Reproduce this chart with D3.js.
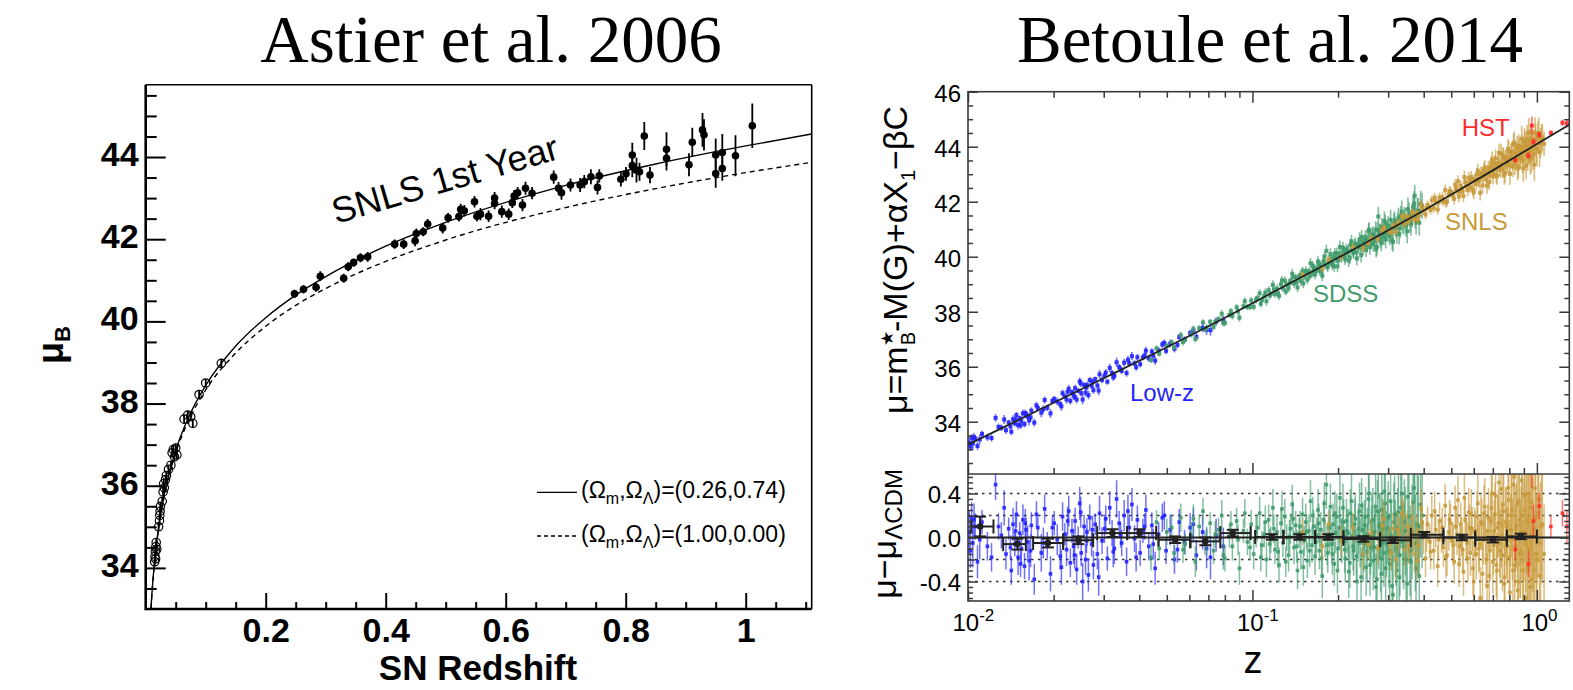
<!DOCTYPE html>
<html>
<head>
<meta charset="utf-8">
<script src="https://cdn.jsdelivr.net/npm/d3@7"></script>
<style>
  body { margin: 0; background: #fff; }
  svg { display: block; }
</style>
</head>
<body>
<svg id="fig" width="1573" height="690"></svg>
<script>
// ===================== Astier et al. 2006 : SNLS first-year Hubble diagram =====================
// nearby supernovae (open circles)
const nearbyZ   = [0.0150,0.0155,0.0160,0.0165,0.0170,0.0175,0.0185,0.0215,0.0230,0.0235,
                   0.0240,0.0245,0.0275,0.0290,0.0300,0.0310,0.0330,0.0345,0.0380,0.0420,
                   0.0440,0.0460,0.0480,0.0500,0.0520,0.0640,0.0700,0.0750,0.0785,0.0890,
                   0.1000,0.1260];
const nearbyMu  = [34.15,34.28,34.40,34.22,34.52,34.62,34.45,35.00,35.15,35.28,
                   35.38,35.50,35.62,35.85,36.05,35.95,36.15,36.25,36.40,36.50,
                   36.80,36.88,36.70,36.92,36.75,37.62,37.72,37.68,37.52,38.22,
                   38.50,38.98];
const nearbyErr = [0.10,0.10,0.10,0.10,0.10,0.10,0.10,0.10,0.10,0.10,
                   0.10,0.10,0.10,0.10,0.10,0.10,0.10,0.10,0.10,0.10,
                   0.10,0.10,0.10,0.10,0.10,0.10,0.10,0.10,0.10,0.10,
                   0.10,0.10];
// SNLS first-year supernovae (filled circles)
const snls1Z   = [0.248,0.263,0.284,0.291,0.330,0.3375,0.3465,0.358,0.370,0.415,
                  0.430,0.449,0.451,0.4625,0.470,0.495,0.504,0.522,0.525,0.531,
                  0.548,0.552,0.558,0.5715,0.5815,0.5815,0.5935,0.605,0.611,0.614,
                  0.620,0.628,0.633,0.644,0.680,0.688,0.693,0.708,0.724,0.731,
                  0.742,0.753,0.756,0.792,0.8005,0.811,0.811,0.818,0.823,0.831,
                  0.8405,0.868,0.868,0.9055,0.911,0.928,0.9305,0.950,0.950,0.961,
                  0.961,0.983,1.011];
const snls1Mu  = [40.67,40.78,40.83,41.10,41.05,41.33,41.43,41.55,41.57,41.88,
                  41.88,41.96,42.14,42.18,42.37,42.27,42.52,42.55,42.73,42.69,
                  42.91,42.56,42.61,42.56,43.00,42.87,42.67,42.61,42.89,43.05,
                  43.13,42.83,43.24,43.12,43.51,43.24,43.13,43.32,43.32,43.40,
                  43.52,43.26,43.54,43.46,43.59,44.05,43.79,43.68,43.64,44.51,
                  43.56,44.19,43.97,43.81,44.36,44.66,44.54,44.05,43.60,44.11,
                  43.72,44.03,44.76];
const snls1Err = [0.10,0.10,0.11,0.12,0.11,0.11,0.10,0.11,0.12,0.11,
                  0.12,0.13,0.12,0.11,0.12,0.13,0.12,0.12,0.13,0.14,
                  0.14,0.13,0.15,0.14,0.15,0.14,0.15,0.14,0.13,0.15,
                  0.14,0.15,0.16,0.15,0.16,0.15,0.17,0.16,0.17,0.16,
                  0.18,0.17,0.16,0.18,0.17,0.30,0.28,0.30,0.22,0.34,
                  0.20,0.41,0.30,0.28,0.35,0.41,0.38,0.40,0.35,0.45,
                  0.30,0.50,0.54];
// model Hubble curves: (0.26,0.74) and (1.00,0.00)
const modelZ = [0.008,0.01,0.015,0.02,0.03,0.04,0.05,0.07,0.1,0.15,0.2,0.25,0.3,0.4,0.5,0.7,0.85,1.0,1.11];
const lcdmMu = [32.82,33.30,34.20,34.82,35.72,36.35,36.86,37.62,38.44,39.40,40.09,40.64,41.09,41.83,42.41,43.31,43.83,44.27,44.56];
const edsMu  = [32.80,33.28,34.17,34.79,35.68,36.31,36.80,37.54,38.33,39.23,39.88,40.39,40.80,41.46,41.98,42.77,43.23,43.62,43.87];
const leftXTicks = [0.2, 0.4, 0.6, 0.8, 1];
const leftYTicks = [34, 36, 38, 40, 42, 44];
const legendA = "(0.26,0.74)";
const legendB = "(1.00,0.00)";

// ===================== Betoule et al. 2014 : JLA Hubble diagram =====================
const jlaCurveZ  = [0.01,0.02,0.03,0.05,0.07,0.1,0.15,0.2,0.3,0.4,0.5,0.7,1.0,1.3];
const jlaCurveMu = [33.17,34.69,35.58,36.71,37.47,38.31,39.28,39.96,40.96,41.68,42.26,43.14,44.10,44.80];

// Low-z sample: redshift, Hubble residual, uncertainty
const lowzZ = [0.0101,0.0102,0.0103,0.0104,0.0106,0.0108,0.0112,0.0117,0.0125,0.0131,
               0.0136,0.0139,0.0142,0.0144,0.0146,0.0148,0.0150,0.0152,0.0154,0.0156,
               0.0158,0.0160,0.0162,0.0164,0.0167,0.0171,0.0176,0.0181,0.0186,0.0190,
               0.0195,0.0201,0.0206,0.0211,0.0215,0.0219,0.0222,0.0226,0.0229,0.0232,
               0.0235,0.0238,0.0241,0.0244,0.0247,0.0250,0.0253,0.0256,0.0259,0.0262,
               0.0265,0.0268,0.0272,0.0276,0.0280,0.0285,0.0290,0.0296,0.0302,0.0309,
               0.0315,0.0321,0.0327,0.0333,0.0340,0.0347,0.0354,0.0361,0.0369,0.0377,
               0.0385,0.0394,0.0403,0.0412,0.0422,0.0432,0.0443,0.0455,0.0468,0.0482,
               0.0497,0.0514,0.0532,0.0553,0.0577,0.0604,0.0635,0.0668,0.0690,0.0712,
               0.0745,0.0790,
               0.0105,0.0110,0.0121,0.0128,0.0134,0.0141,0.0147,0.0153,0.0159,0.0166,
               0.0174,0.0184,0.0198,0.0213,0.0224,0.0237,0.0249,0.0261,0.0274,0.0288,
               0.0305,0.0324,0.0344,0.0365,0.0390,0.0418,0.0448,0.0490,0.0545,0.0620];
const lowzRes = [0.05,-0.12,0.18,-0.05,0.10,-0.22,0.14,-0.08,0.48,0.02,
                 -0.15,0.08,-0.30,0.12,-0.06,0.21,-0.18,0.04,-0.10,0.16,
                 -0.26,0.07,-0.04,-0.21,0.11,-0.38,0.09,-0.14,0.26,-0.07,
                 -0.33,0.13,-0.02,-0.17,0.19,0.03,-0.11,0.24,-0.23,0.06,
                 -0.08,0.15,-0.29,0.00,0.31,-0.14,-0.40,0.10,-0.20,0.05,
                 -0.34,0.18,-0.06,-0.25,0.12,-0.15,0.22,-0.03,0.08,-0.19,
                 0.27,0.04,-0.10,0.35,0.13,-0.05,0.20,-0.22,0.09,0.30,
                 -0.01,0.16,-0.14,0.06,0.25,-0.08,0.11,-0.28,0.03,0.18,
                 -0.12,0.07,-0.20,0.14,-0.04,0.09,-0.16,0.05,-0.10,-0.18,
                 0.02,-0.08,
                 0.16,-0.02,-0.18,0.10,0.27,-0.09,0.06,-0.24,0.13,-0.12,
                 0.21,-0.05,0.09,-0.27,0.15,-0.16,0.23,-0.03,0.07,-0.36,
                 0.17,-0.13,0.02,0.24,-0.18,0.10,-0.06,0.20,-0.11,0.12];
const lowzErr = [0.20,0.16,0.14,0.22,0.12,0.15,0.11,0.13,0.14,0.12,
                 0.14,0.10,0.13,0.15,0.11,0.12,0.16,0.10,0.13,0.14,
                 0.12,0.11,0.15,0.18,0.12,0.14,0.10,0.17,0.13,0.12,
                 0.16,0.11,0.14,0.12,0.13,0.10,0.15,0.14,0.13,0.11,
                 0.16,0.12,0.14,0.10,0.15,0.12,0.17,0.11,0.14,0.13,
                 0.15,0.12,0.11,0.13,0.10,0.14,0.16,0.12,0.13,0.11,
                 0.15,0.12,0.14,0.17,0.11,0.12,0.14,0.13,0.10,0.15,
                 0.12,0.13,0.12,0.11,0.14,0.13,0.12,0.15,0.11,0.13,
                 0.12,0.14,0.13,0.12,0.11,0.13,0.14,0.16,0.18,0.20,
                 0.15,0.17,
                 0.15,0.18,0.13,0.12,0.16,0.11,0.14,0.12,0.13,0.15,
                 0.12,0.14,0.11,0.16,0.13,0.12,0.14,0.11,0.13,0.17,
                 0.12,0.14,0.11,0.15,0.13,0.12,0.14,0.13,0.12,0.15];

// SDSS sample
const sdssZ = [0.044,0.046,0.047,0.050,0.053,0.056,0.058,0.061,0.063,0.065,
               0.067,0.069,0.071,0.073,0.076,0.078,0.080,0.083,0.085,0.088,
               0.090,0.093,0.096,0.099,0.101,0.104,0.106,0.108,0.110,0.112,
               0.114,0.116,0.118,0.120,0.122,0.124,0.126,0.128,0.130,0.132,
               0.134,0.136,0.138,0.140,0.142,0.144,0.146,0.148,0.150,0.152,
               0.154,0.156,0.158,0.160,0.162,0.164,0.166,0.168,0.170,0.172,
               0.174,0.176,0.178,0.180,0.182,0.184,0.186,0.188,0.190,0.192,
               0.194,0.196,0.198,0.200,0.203,0.206,0.209,0.212,0.215,0.218,
               0.221,0.224,0.227,0.230,0.233,0.236,0.239,0.242,0.245,0.248,
               0.251,0.254,0.257,0.260,0.263,0.266,0.269,0.272,0.275,0.277,
               0.278,0.281,0.284,0.287,0.290,0.293,0.296,0.300,0.304,0.308,
               0.312,0.316,0.320,0.324,0.328,0.332,0.337,0.342,0.347,0.352,
               0.358,0.364,0.370,0.372,0.376,0.383,0.390,
               0.052,0.057,0.062,0.068,0.074,0.079,0.084,0.089,0.094,0.098,
               0.103,0.107,0.111,0.115,0.119,0.123,0.127,0.131,0.135,0.139,
               0.143,0.147,0.151,0.155,0.159,0.163,0.167,0.171,0.175,0.179,
               0.183,0.187,0.191,0.195,0.199,0.202,0.205,0.208,0.211,0.214,
               0.217,0.220,0.223,0.226,0.229,0.232,0.235,0.238,0.241,0.244,
               0.247,0.250,0.253,0.256,0.259,0.262,0.265,0.268,0.271,0.274,
               0.279,0.282,0.285,0.288,0.291,0.294,0.298,0.302,0.306,0.310,
               0.314,0.318,0.322,0.326,0.330,0.335,0.340,0.345,0.350,0.355,
               0.361,0.367,0.374,0.380,0.386,0.395];
const sdssRes = [-0.18,0.14,-0.10,0.05,-0.14,0.18,-0.06,0.02,-0.22,0.10,
                 0.24,-0.03,0.13,-0.12,0.07,0.20,-0.19,0.01,-0.08,0.15,
                 -0.28,0.06,-0.04,0.12,-0.15,0.09,0.22,-0.07,0.03,-0.20,
                 0.16,-0.02,0.27,-0.11,0.05,-0.25,0.13,-0.05,0.19,0.00,
                 -0.16,0.08,0.30,-0.09,0.11,-0.30,0.04,-0.13,0.21,-0.03,
                 0.14,-0.21,0.06,0.33,-0.07,0.10,-0.17,0.02,0.25,-0.12,
                 0.07,-0.35,0.16,-0.01,0.48,-0.14,0.09,0.28,-0.06,0.12,
                 -0.24,0.04,0.19,-0.10,0.36,-0.03,0.14,-0.19,0.06,-0.31,
                 0.22,0.01,-0.12,0.17,-0.40,0.08,-0.05,0.29,-0.16,0.11,
                 -0.27,0.03,0.40,-0.09,0.15,-0.21,0.05,-0.45,0.24,0.70,
                 -0.02,0.12,-0.33,0.07,-0.14,0.31,-0.06,0.18,-0.24,0.02,
                 -0.52,0.21,-0.10,0.09,-0.36,0.27,-0.04,0.14,-0.20,0.37,
                 -0.12,0.05,0.45,0.72,-0.28,0.10,0.30,
                 0.09,-0.11,0.17,-0.05,0.03,-0.16,0.12,-0.02,0.22,-0.09,
                 0.05,-0.18,0.14,-0.06,0.08,-0.13,0.26,-0.22,0.01,0.17,
                 -0.08,0.10,-0.27,0.05,-0.12,0.20,-0.04,0.13,-0.19,0.31,
                 -0.07,0.03,-0.15,0.22,-0.30,0.09,-0.02,0.27,-0.11,0.15,
                 0.04,-0.23,0.33,-0.08,0.12,-0.17,0.01,0.24,-0.36,0.07,
                 -0.05,0.19,-0.13,0.35,-0.25,0.02,0.16,-0.09,0.28,-0.38,
                 0.10,-0.19,0.25,-0.04,0.42,-0.28,0.08,-0.12,0.33,-0.44,
                 0.14,-0.01,-0.30,0.23,-0.16,0.40,-0.08,0.06,-0.42,0.19,
                 -0.22,0.32,-0.05,0.12,-0.35,0.20];
const sdssErr = [0.12,0.11,0.10,0.12,0.11,0.13,0.10,0.12,0.14,0.11,
                 0.12,0.13,0.10,0.12,0.11,0.14,0.12,0.10,0.13,0.12,
                 0.15,0.11,0.12,0.13,0.14,0.12,0.15,0.13,0.12,0.16,
                 0.14,0.12,0.17,0.13,0.15,0.16,0.14,0.13,0.16,0.12,
                 0.15,0.14,0.18,0.15,0.13,0.17,0.14,0.16,0.15,0.14,
                 0.17,0.16,0.15,0.19,0.16,0.15,0.17,0.16,0.19,0.17,
                 0.16,0.20,0.18,0.17,0.22,0.18,0.17,0.21,0.18,0.19,
                 0.20,0.18,0.21,0.19,0.23,0.20,0.21,0.22,0.20,0.24,
                 0.22,0.21,0.23,0.22,0.26,0.23,0.22,0.25,0.24,0.23,
                 0.26,0.24,0.28,0.25,0.26,0.27,0.25,0.30,0.28,0.35,
                 0.27,0.29,0.30,0.28,0.31,0.32,0.30,0.33,0.34,0.32,
                 0.36,0.35,0.34,0.36,0.38,0.37,0.36,0.39,0.40,0.42,
                 0.41,0.43,0.45,0.40,0.44,0.46,0.48,
                 0.11,0.12,0.13,0.11,0.12,0.13,0.12,0.14,0.13,0.12,
                 0.14,0.13,0.15,0.14,0.13,0.15,0.16,0.14,0.15,0.16,
                 0.15,0.14,0.17,0.16,0.15,0.17,0.16,0.18,0.17,0.19,
                 0.18,0.17,0.19,0.20,0.21,0.19,0.20,0.22,0.21,0.20,
                 0.22,0.23,0.24,0.22,0.23,0.24,0.23,0.26,0.27,0.25,
                 0.26,0.27,0.26,0.29,0.28,0.27,0.29,0.28,0.30,0.32,
                 0.30,0.31,0.32,0.31,0.35,0.33,0.32,0.34,0.36,0.38,
                 0.36,0.35,0.37,0.38,0.37,0.41,0.39,0.40,0.44,0.42,
                 0.43,0.45,0.44,0.46,0.47,0.48];

// SNLS sample
const snlsZ = [0.150,0.176,0.185,0.205,0.226,0.245,0.262,0.276,0.290,0.302,
               0.312,0.320,0.328,0.336,0.343,0.350,0.357,0.364,0.371,0.378,
               0.385,0.392,0.399,0.406,0.413,0.420,0.427,0.434,0.441,0.448,
               0.455,0.462,0.469,0.476,0.483,0.490,0.497,0.504,0.512,0.520,
               0.528,0.536,0.544,0.552,0.560,0.568,0.576,0.584,0.592,0.600,
               0.608,0.616,0.624,0.632,0.640,0.648,0.656,0.664,0.672,0.680,
               0.688,0.696,0.704,0.712,0.720,0.728,0.736,0.744,0.752,0.760,
               0.768,0.776,0.784,0.792,0.800,0.808,0.816,0.824,0.832,0.840,
               0.848,0.856,0.864,0.872,0.880,0.888,0.896,0.904,0.912,0.920,
               0.928,0.936,0.944,0.952,0.960,0.970,0.980,0.990,1.000,1.015,
               1.030,1.045,1.060,
               0.255,0.285,0.308,0.324,0.339,0.353,0.367,0.381,0.395,0.409,
               0.423,0.437,0.451,0.465,0.479,0.493,0.508,0.516,0.524,0.532,
               0.540,0.548,0.556,0.564,0.572,0.580,0.588,0.596,0.604,0.612,
               0.620,0.628,0.636,0.644,0.652,0.660,0.668,0.676,0.684,0.692,
               0.700,0.708,0.716,0.724,0.732,0.740,0.748,0.756,0.764,0.772,
               0.780,0.788,0.796,0.804,0.812,0.820,0.828,0.836,0.844,0.852,
               0.860,0.868,0.876,0.884,0.892,0.900,0.908,0.916,0.924,0.932,
               0.940,0.948,0.956,0.965,0.975,0.985,0.995,1.008,1.022,1.038];
const snlsRes = [0.05,-0.08,0.12,-0.03,0.09,-0.15,0.04,-0.10,0.17,-0.05,
                 0.08,-0.20,0.03,0.22,-0.11,0.10,-0.02,0.18,-0.15,0.06,
                 -0.07,0.26,0.00,-0.19,0.12,-0.04,0.20,-0.12,0.07,-0.26,
                 0.15,0.02,-0.09,0.29,-0.16,0.05,0.13,-0.03,-0.22,0.10,
                 0.34,-0.08,0.01,-0.31,0.16,-0.05,0.23,-0.14,0.08,-0.40,
                 0.03,0.19,-0.10,-0.55,0.12,-0.02,0.28,-0.20,0.06,-0.35,
                 0.15,0.40,-0.07,0.21,-0.25,0.09,0.50,-0.12,0.02,0.30,
                 -0.42,0.14,-0.03,0.45,-0.18,0.07,0.25,-0.30,0.55,-0.08,
                 0.11,-0.48,0.33,-0.15,0.04,0.20,-0.60,0.38,-0.05,0.15,
                 -0.28,0.60,-0.10,0.27,-0.38,0.08,-0.70,0.18,-0.20,0.35,
                 -0.05,0.12,-0.15,
                 -0.06,0.11,-0.14,0.07,0.19,-0.08,0.02,-0.21,0.14,0.04,
                 -0.13,0.24,-0.02,0.09,-0.18,0.16,-0.07,0.27,0.03,-0.24,
                 0.12,-0.11,0.36,-0.01,-0.19,0.09,0.21,-0.28,0.05,-0.15,
                 0.31,-0.06,0.14,-0.33,0.22,0.00,-0.44,0.18,-0.12,0.27,
                 -0.22,0.06,0.38,-0.30,0.13,-0.05,0.44,-0.16,0.24,-0.36,
                 0.10,-0.08,0.34,-0.50,0.20,-0.02,0.48,-0.25,0.08,0.30,
                 -0.40,0.16,-0.12,0.52,-0.30,0.05,0.25,-0.55,0.40,-0.10,
                 0.18,-0.45,0.32,0.02,-0.30,0.45,-0.15,0.22,-0.35,0.10];
const snlsErr = [0.12,0.13,0.12,0.14,0.13,0.15,0.14,0.15,0.16,0.15,
                 0.14,0.17,0.15,0.16,0.15,0.14,0.16,0.15,0.17,0.15,
                 0.16,0.18,0.15,0.17,0.16,0.15,0.18,0.17,0.16,0.19,
                 0.17,0.16,0.18,0.20,0.19,0.17,0.18,0.17,0.20,0.18,
                 0.22,0.19,0.18,0.22,0.20,0.19,0.22,0.21,0.20,0.25,
                 0.21,0.23,0.22,0.28,0.23,0.22,0.26,0.25,0.24,0.28,
                 0.26,0.30,0.27,0.29,0.30,0.28,0.33,0.30,0.29,0.33,
                 0.35,0.32,0.31,0.36,0.34,0.33,0.37,0.38,0.40,0.37,
                 0.39,0.42,0.41,0.40,0.42,0.45,0.48,0.46,0.45,0.48,
                 0.50,0.52,0.50,0.53,0.55,0.54,0.58,0.56,0.60,0.58,
                 0.55,0.50,0.45,
                 0.14,0.15,0.15,0.16,0.15,0.16,0.15,0.17,0.16,0.17,
                 0.16,0.18,0.17,0.18,0.19,0.18,0.19,0.20,0.19,0.21,
                 0.20,0.21,0.23,0.20,0.22,0.21,0.23,0.25,0.22,0.23,
                 0.26,0.24,0.25,0.28,0.26,0.25,0.30,0.27,0.28,0.30,
                 0.29,0.28,0.32,0.31,0.30,0.31,0.35,0.33,0.34,0.37,
                 0.35,0.34,0.38,0.40,0.38,0.37,0.42,0.40,0.39,0.42,
                 0.44,0.42,0.43,0.47,0.46,0.45,0.48,0.50,0.50,0.48,
                 0.50,0.52,0.53,0.52,0.55,0.56,0.55,0.58,0.55,0.52];

// HST sample
const hstZ   = [0.839,0.934,0.960,0.973,1.019,1.120,1.230,1.275];
const hstRes = [-0.11,-0.24,0.78,0.15,0.285,0.10,0.22,0.10];
const hstErr = [0.10,0.12,0.33,0.15,0.12,0.10,0.12,0.15];

// binned residuals (black)
const binZ   = [0.01103,0.01492,0.0191,0.02444,0.0322,0.0401,0.0535,0.0683,0.0853,0.117,0.1463,0.185,0.2456,0.3116,0.4016,0.5447,0.700,0.878];
const binLo  = [0.01026,0.01329,0.01694,0.0216,0.02844,0.03626,0.0467,0.0604,0.0771,0.1022,0.1285,0.1661,0.2089,0.2812,0.3605,0.4693,0.6067,0.7842];
const binHi  = [0.01229,0.01597,0.0216,0.02754,0.03626,0.04586,0.0604,0.0771,0.0985,0.1285,0.1661,0.2089,0.2812,0.3605,0.4693,0.6067,0.7842,1.0];
const binRes = [0.10,-0.06,-0.05,-0.025,0.04,0.04,-0.02,-0.035,0.04,0.005,0.005,0.005,-0.013,-0.025,0.025,0.0,-0.02,0.01];
const binErr = [0.09,0.05,0.04,0.035,0.035,0.035,0.03,0.035,0.03,0.025,0.025,0.025,0.025,0.025,0.025,0.025,0.025,0.025];

const rightYTicks = [34, 36, 38, 40, 42, 44, 46];
const resYTicks = [-0.4, 0, 0.4];
const decadeTicks = [0.01, 0.1, 1];
const decadeExp = ["-2", "-1", "0"];
const sampleNames = ["Low-z", "SDSS", "SNLS", "HST"];
const sampleColors = ["#2424ff", "#3f9b6c", "#c89a3a", "#ff2b2b"];

// ----------------------------------------------------------------------------------
const SANS = "'Liberation Sans', Arial, Helvetica, sans-serif";
const SERIF = "'Liberation Serif', 'Times New Roman', serif";
const svg = d3.select("#fig");
svg.append("rect").attr("width", 1573).attr("height", 690).attr("fill", "#fff");
const defs = svg.append("defs");

// titles
svg.append("text").attr("x", 491).attr("y", 62).attr("text-anchor", "middle")
  .style("font-family", SERIF).style("font-size", "67px").text("Astier et al. 2006");
svg.append("text").attr("x", 1270).attr("y", 62).attr("text-anchor", "middle")
  .style("font-family", SERIF).style("font-size", "67px").text("Betoule et al. 2014");

function styleAxis(g, color, width) {
  g.select(".domain").remove();
  g.selectAll(".tick line").attr("stroke", color).attr("stroke-width", width);
  g.selectAll(".tick text").attr("fill", "#000");
}

// ===================== left panel =====================
const L = { x0: 145.7, x1: 811.7, y0: 84.7, y1: 609 };
const xL = d3.scaleLinear().domain([0, 1.11]).range([L.x0, L.x1]);
const yL = d3.scaleLinear().domain([33, 45.76]).range([L.y1, L.y0]);

defs.append("clipPath").attr("id", "clipL").append("rect")
  .attr("x", L.x0).attr("y", L.y0).attr("width", L.x1 - L.x0).attr("height", L.y1 - L.y0);

// y axis (inward ticks)
const gLy = svg.append("g").attr("transform", `translate(${L.x0},0)`)
  .call(d3.axisLeft(yL).tickValues(leftYTicks).tickSize(-20).tickPadding(7).tickFormat(d3.format("d")));
styleAxis(gLy, "#000", 2);
gLy.selectAll(".tick text").attr("dy", "0.25em")
  .style("font-family", SANS).style("font-weight", "bold").style("font-size", "34px");
const gLyMinor = svg.append("g").attr("transform", `translate(${L.x0},0)`)
  .call(d3.axisLeft(yL).tickValues(d3.range(67, 92).map(v => v / 2).filter(v => v % 2 !== 0))
    .tickSize(-11).tickFormat(""));
styleAxis(gLyMinor, "#000", 2);

// x axis
const gLx = svg.append("g").attr("transform", `translate(0,${L.y1})`)
  .call(d3.axisBottom(xL).tickValues(leftXTicks).tickSize(-16).tickPadding(9)
    .tickFormat(d => d === 1 ? "1" : d.toFixed(1)));
styleAxis(gLx, "#000", 2);
gLx.selectAll(".tick text").style("font-family", SANS).style("font-weight", "bold").style("font-size", "34px");
const gLxMinor = svg.append("g").attr("transform", `translate(0,${L.y1})`)
  .call(d3.axisBottom(xL).tickValues(d3.range(1, 23).filter(v => v % 4 !== 0).map(v => v * 0.05))
    .tickSize(-7).tickFormat(""));
styleAxis(gLxMinor, "#000", 2);

// frame
svg.append("line").attr("x1", L.x0).attr("x2", L.x1).attr("y1", L.y0).attr("y2", L.y0).attr("stroke", "#000").attr("stroke-width", 1.6);
svg.append("line").attr("x1", L.x1).attr("x2", L.x1).attr("y1", L.y0).attr("y2", L.y1).attr("stroke", "#000").attr("stroke-width", 1.6);
svg.append("line").attr("x1", L.x0).attr("x2", L.x0).attr("y1", L.y0).attr("y2", L.y1 + 1.2).attr("stroke", "#000").attr("stroke-width", 2.6);
svg.append("line").attr("x1", L.x0).attr("x2", L.x1).attr("y1", L.y1).attr("y2", L.y1).attr("stroke", "#000").attr("stroke-width", 2.6);

const plotL = svg.append("g").attr("clip-path", "url(#clipL)");
const lineL = d3.line().x(d => xL(d[0])).y(d => yL(d[1])).curve(d3.curveMonotoneX);
plotL.append("path").datum(modelZ.map((z, i) => [z, edsMu[i]])).attr("d", lineL)
  .attr("fill", "none").attr("stroke", "#000").attr("stroke-width", 1.4).attr("stroke-dasharray", "5,4");
plotL.append("path").datum(modelZ.map((z, i) => [z, lcdmMu[i]])).attr("d", lineL)
  .attr("fill", "none").attr("stroke", "#000").attr("stroke-width", 1.4);

const nearby = nearbyZ.map((z, i) => ({ z, mu: nearbyMu[i], err: nearbyErr[i] }));
const snls1 = snls1Z.map((z, i) => ({ z, mu: snls1Mu[i], err: snls1Err[i] }));
plotL.append("g").selectAll("line").data(nearby.concat(snls1)).join("line")
  .attr("x1", d => xL(d.z)).attr("x2", d => xL(d.z))
  .attr("y1", d => yL(d.mu - d.err)).attr("y2", d => yL(d.mu + d.err))
  .attr("stroke", "#000").attr("stroke-width", 1.8);
plotL.append("g").selectAll("circle").data(nearby).join("circle")
  .attr("cx", d => xL(d.z)).attr("cy", d => yL(d.mu)).attr("r", 4.2)
  .attr("fill", "none").attr("stroke", "#000").attr("stroke-width", 1.2);
plotL.append("g").selectAll("circle").data(snls1).join("circle")
  .attr("cx", d => xL(d.z)).attr("cy", d => yL(d.mu)).attr("r", 3.8).attr("fill", "#000");

// sample label
svg.append("text").attr("transform", "translate(336,224) rotate(-16.3)")
  .style("font-family", SANS).style("font-size", "36px").text("SNLS 1st Year");

// legend
function legendRow(y, dash, value) {
  svg.append("line").attr("x1", 537).attr("x2", 577).attr("y1", y).attr("y2", y)
    .attr("stroke", "#000").attr("stroke-width", 1.3).attr("stroke-dasharray", dash);
  const t = svg.append("text").attr("x", 581).attr("y", y + 6)
    .style("font-family", SANS).style("font-size", "23px");
  t.append("tspan").text("(Ω");
  t.append("tspan").attr("dy", 6).style("font-size", "16px").text("m");
  t.append("tspan").attr("dy", -6).text(",Ω");
  t.append("tspan").attr("dy", 6).style("font-size", "16px").text("Λ");
  t.append("tspan").attr("dy", -6).text(")=" + value);
}
legendRow(492.3, null, legendA);
legendRow(536, "4,3", legendB);

// axis titles
const muB = svg.append("text").attr("transform", "translate(62.5,345) rotate(-90)")
  .attr("text-anchor", "middle").style("font-family", SANS).style("font-weight", "bold");
muB.append("tspan").style("font-size", "36px").text("μ");
muB.append("tspan").attr("dy", 7).style("font-size", "22px").text("B");
svg.append("text").attr("x", 478).attr("y", 680).attr("text-anchor", "middle")
  .style("font-family", SANS).style("font-weight", "bold").style("font-size", "35px").text("SN Redshift");

// ===================== right panel =====================
const R = { x0: 968, x1: 1569.3, yTop: 91.7, ySep: 474, yBot: 601 };
const xR = d3.scaleLog().domain([0.01, 1.30]).range([R.x0, R.x1]);
const yT = d3.scaleLinear().domain([32.1, 46]).range([R.ySep, R.yTop]);
const yRes = d3.scaleLinear().domain([-0.577, 0.577]).range([R.yBot, R.ySep]);
// distance modulus of the reference cosmology at any redshift
const muModel = d3.scaleLinear().domain(jlaCurveZ.map(Math.log10)).range(jlaCurveMu);

defs.append("clipPath").attr("id", "clipT").append("rect")
  .attr("x", R.x0).attr("y", R.yTop).attr("width", R.x1 - R.x0).attr("height", R.ySep - R.yTop);
defs.append("clipPath").attr("id", "clipR").append("rect")
  .attr("x", R.x0).attr("y", R.ySep).attr("width", R.x1 - R.x0).attr("height", R.yBot - R.ySep);

const AX = "#3a3a3a";
const logMinor = [2, 3, 4, 5, 6, 7, 8, 9].flatMap(m => [m * 0.01, m * 0.1]);

// residual-panel grid lines
const plotR = svg.append("g").attr("clip-path", "url(#clipR)");
plotR.append("g").selectAll("line").data([-0.4, -0.2, 0.2, 0.4]).join("line")
  .attr("x1", R.x0).attr("x2", R.x1).attr("y1", d => yRes(d)).attr("y2", d => yRes(d))
  .attr("stroke", "#333").attr("stroke-width", 1.5).attr("stroke-dasharray", "2.5,4.5");

const plotT = svg.append("g").attr("clip-path", "url(#clipT)");

const samples = [
  { z: lowzZ, res: lowzRes, err: lowzErr },
  { z: sdssZ, res: sdssRes, err: sdssErr },
  { z: snlsZ, res: snlsRes, err: snlsErr },
  { z: hstZ, res: hstRes, err: hstErr }
];
samples.forEach((s, k) => {
  const color = sampleColors[k];
  const pts = s.z.map((z, i) => ({ z, res: s.res[i], err: s.err[i], mu: muModel(Math.log10(z)) + s.res[i] }));
  // Hubble diagram
  plotT.append("g").selectAll("line").data(pts).join("line")
    .attr("x1", d => xR(d.z)).attr("x2", d => xR(d.z))
    .attr("y1", d => yT(d.mu - d.err)).attr("y2", d => yT(d.mu + d.err))
    .attr("stroke", color).attr("stroke-width", 1.6).attr("stroke-opacity", 0.65);
  plotT.append("g").selectAll("rect").data(pts).join("rect")
    .attr("x", d => xR(d.z) - 2).attr("y", d => yT(d.mu) - 2).attr("width", 4).attr("height", 4)
    .attr("fill", color).attr("fill-opacity", 0.9);
  // residuals
  plotR.append("g").selectAll("line").data(pts).join("line")
    .attr("x1", d => xR(d.z)).attr("x2", d => xR(d.z))
    .attr("y1", d => yRes(d.res - d.err)).attr("y2", d => yRes(d.res + d.err))
    .attr("stroke", color).attr("stroke-width", 1.5).attr("stroke-opacity", 0.65);
  plotR.append("g").selectAll("rect").data(pts).join("rect")
    .attr("x", d => xR(d.z) - 1.8).attr("y", d => yRes(d.res) - 1.8).attr("width", 3.6).attr("height", 3.6)
    .attr("fill", color).attr("fill-opacity", 0.9);
});

// model curve
plotT.append("path").datum(jlaCurveZ.map((z, i) => [z, jlaCurveMu[i]]))
  .attr("d", d3.line().x(d => xR(d[0])).y(d => yT(d[1])).curve(d3.curveMonotoneX))
  .attr("fill", "none").attr("stroke", "#222").attr("stroke-width", 1.8);

// zero line and binned residuals
plotR.append("line").attr("x1", R.x0).attr("x2", R.x1).attr("y1", yRes(0)).attr("y2", yRes(0))
  .attr("stroke", "#222").attr("stroke-width", 1.8);
const bins = binZ.map((z, i) => ({ z, lo: binLo[i], hi: binHi[i], res: binRes[i], err: binErr[i] }));
const gb = plotR.append("g").attr("stroke", "#222").attr("stroke-width", 2);
gb.selectAll(".h").data(bins).join("line").attr("class", "h")
  .attr("x1", d => xR(d.lo)).attr("x2", d => xR(d.hi)).attr("y1", d => yRes(d.res)).attr("y2", d => yRes(d.res));
gb.selectAll(".lc").data(bins).join("line").attr("class", "lc")
  .attr("x1", d => xR(d.lo)).attr("x2", d => xR(d.lo)).attr("y1", d => yRes(d.res) - 7).attr("y2", d => yRes(d.res) + 7);
gb.selectAll(".hc").data(bins).join("line").attr("class", "hc")
  .attr("x1", d => xR(d.hi)).attr("x2", d => xR(d.hi)).attr("y1", d => yRes(d.res) - 7).attr("y2", d => yRes(d.res) + 7);
gb.selectAll(".v").data(bins).join("line").attr("class", "v")
  .attr("x1", d => xR(d.z)).attr("x2", d => xR(d.z)).attr("y1", d => yRes(d.res - d.err)).attr("y2", d => yRes(d.res + d.err));
gb.selectAll(".t").data(bins).join("line").attr("class", "t")
  .attr("x1", d => xR(d.z) - 6).attr("x2", d => xR(d.z) + 6).attr("y1", d => yRes(d.res + d.err)).attr("y2", d => yRes(d.res + d.err));
gb.selectAll(".b").data(bins).join("line").attr("class", "b")
  .attr("x1", d => xR(d.z) - 6).attr("x2", d => xR(d.z) + 6).attr("y1", d => yRes(d.res - d.err)).attr("y2", d => yRes(d.res - d.err));
plotR.append("g").selectAll("circle").data(bins).join("circle")
  .attr("cx", d => xR(d.z)).attr("cy", d => yRes(d.res)).attr("r", 3.3).attr("fill", "#222");

// ---- right-panel axes ----
function addAxis(axis, transform, size, values, fmt) {
  const g = svg.append("g").attr("transform", transform).call(axis.tickValues(values).tickSize(size).tickFormat(fmt || ""));
  styleAxis(g, AX, 1.5);
  return g;
}
// top panel: left (labelled), right, top, bottom
const gTy = addAxis(d3.axisLeft(yT).tickPadding(7), `translate(${R.x0},0)`, -10, rightYTicks, d3.format("d"));
gTy.selectAll(".tick text").attr("dy", "0.42em").style("font-family", SANS).style("font-size", "24px");
const topMinorY = d3.range(65, 92).map(v => v / 2).filter(v => v % 2 !== 0);
addAxis(d3.axisLeft(yT), `translate(${R.x0},0)`, -5, topMinorY);
addAxis(d3.axisRight(yT), `translate(${R.x1},0)`, -10, rightYTicks);
addAxis(d3.axisRight(yT), `translate(${R.x1},0)`, -5, topMinorY);
addAxis(d3.axisTop(xR), `translate(0,${R.yTop})`, -11, decadeTicks);
addAxis(d3.axisTop(xR), `translate(0,${R.yTop})`, -6, logMinor);
addAxis(d3.axisBottom(xR), `translate(0,${R.ySep})`, -11, decadeTicks);
addAxis(d3.axisBottom(xR), `translate(0,${R.ySep})`, -6, logMinor);

// residual panel axes
const gRy = addAxis(d3.axisLeft(yRes).tickPadding(7), `translate(${R.x0},0)`, -10, resYTicks, d => d.toFixed(1));
gRy.selectAll(".tick text").attr("dy", "0.38em").style("font-family", SANS).style("font-size", "24px");
const resMid = [-0.2, 0.2];
const resMinor = d3.range(-11, 12).filter(v => v % 4 !== 0).map(v => v * 0.05);
addAxis(d3.axisLeft(yRes), `translate(${R.x0},0)`, -5, resMinor);
addAxis(d3.axisLeft(yRes), `translate(${R.x0},0)`, -7, resMid);
addAxis(d3.axisRight(yRes), `translate(${R.x1},0)`, -10, resYTicks);
addAxis(d3.axisRight(yRes), `translate(${R.x1},0)`, -5, resMinor);
addAxis(d3.axisRight(yRes), `translate(${R.x1},0)`, -7, resMid);
addAxis(d3.axisBottom(xR), `translate(0,${R.yBot})`, -11, decadeTicks);
addAxis(d3.axisBottom(xR), `translate(0,${R.yBot})`, -6, logMinor);

// frames
svg.append("rect").attr("x", R.x0).attr("y", R.yTop).attr("width", R.x1 - R.x0).attr("height", R.yBot - R.yTop)
  .attr("fill", "none").attr("stroke", AX).attr("stroke-width", 1.6);
svg.append("line").attr("x1", R.x0).attr("x2", R.x1).attr("y1", R.ySep).attr("y2", R.ySep)
  .attr("stroke", AX).attr("stroke-width", 1.6);

// decade labels 10^n
decadeTicks.forEach((d, i) => {
  const t = svg.append("text").attr("x", xR(d) - 15.5).attr("y", 631)
    .style("font-family", SANS).style("font-size", "24px");
  t.append("tspan").text("10");
  t.append("tspan").attr("dy", -10).style("font-size", "17px").text(decadeExp[i]);
});
svg.append("text").attr("x", 1253).attr("y", 673).attr("text-anchor", "middle")
  .style("font-family", SANS).style("font-size", "38px").text("z");

// y titles
const yTitle = svg.append("text").attr("transform", "translate(907,260) rotate(-90)")
  .attr("text-anchor", "middle").style("font-family", SANS).style("font-size", "34px");
yTitle.append("tspan").text("μ=m");
yTitle.append("tspan").attr("dy", -14).style("font-size", "17px").text("★");
yTitle.append("tspan").attr("dx", -14).attr("dy", 22).style("font-size", "20px").text("B");
yTitle.append("tspan").attr("dy", -8).text("-M(G)+αX");
yTitle.append("tspan").attr("dy", 8).style("font-size", "20px").text("1");
yTitle.append("tspan").attr("dy", -8).text("−βC");

const rTitle = svg.append("text").attr("transform", "translate(896,534) rotate(-90)")
  .attr("text-anchor", "middle").style("font-family", SANS).style("font-size", "34px");
rTitle.append("tspan").text("μ−μ");
rTitle.append("tspan").attr("dy", 6).style("font-size", "24px").text("ΛCDM");

// sample names
const namePos = [[1130, 400.7], [1313, 301.7], [1445, 230], [1461.7, 135.5]];
sampleNames.forEach((n, i) => {
  svg.append("text").attr("x", namePos[i][0]).attr("y", namePos[i][1])
    .attr("fill", sampleColors[i]).style("font-family", SANS).style("font-size", "24px").text(n);
});
</script>
</body>
</html>
